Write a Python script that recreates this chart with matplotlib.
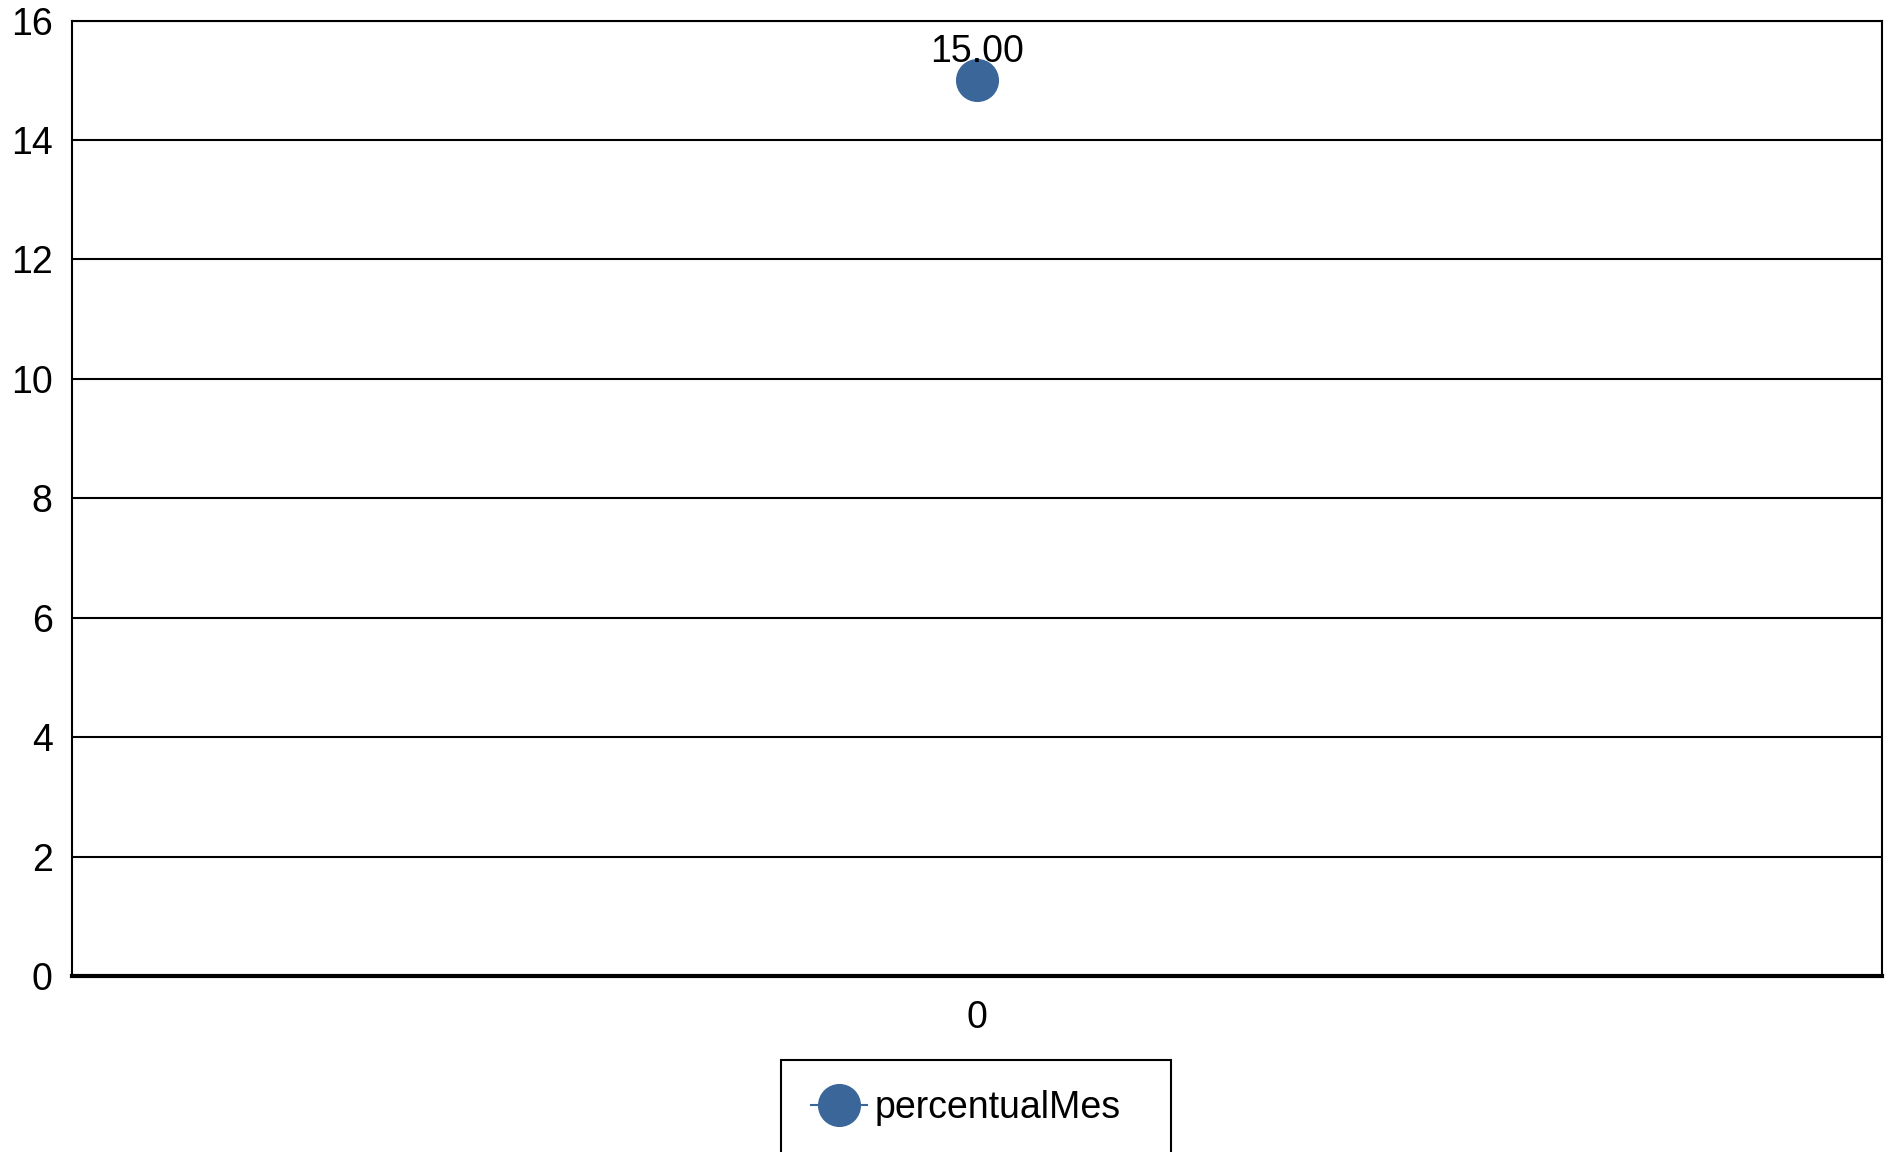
import matplotlib.pyplot as plt
import numpy as np

categories = ["0"]
percentual_mes = [15.00]
y_ticks = [0, 2, 4, 6, 8, 10, 12, 14, 16]

blue = "#3A6699"

plt.rcParams['font.family'] = ['Liberation Sans', 'DejaVu Sans']

fig = plt.figure(figsize=(18.89, 11.52), dpi=100)
ax = fig.add_axes([0.0381, 0.1528, 0.9582, 0.8294])

x = np.arange(len(categories))
ax.plot(x, percentual_mes, color=blue, lw=1.5, marker='o', markersize=30,
        markerfacecolor=blue, markeredgecolor=blue, label="percentualMes", zorder=3)
for xi, v in zip(x, percentual_mes):
    ax.annotate(f"{v:.2f}", (xi, v), xytext=(0, 13), textcoords='offset points',
                ha='center', va='baseline', fontsize=27, zorder=4)

ax.set_xlim(-0.5, len(categories) - 0.5)
ax.set_ylim(0, 16)
ax.set_yticks(y_ticks)
ax.set_xticks(x)
ax.set_xticklabels(categories)
ax.tick_params(axis='both', length=0, labelsize=27)
ax.tick_params(axis='y', pad=14)
ax.tick_params(axis='x', pad=17)
ax.yaxis.grid(True, color='black', lw=1.5)
ax.set_axisbelow(True)
for s in ['top', 'right', 'left']:
    ax.spines[s].set_linewidth(1.5)
ax.spines['bottom'].set_linewidth(3)

# legend box sits low, partly cut off by the figure edge
top = 1 - 1060 / 1152
leg = fig.legend(loc='upper left', bbox_to_anchor=(781 / 1889, top - 0.2, 390 / 1889, 0.2),
                 mode='expand', fontsize=27, frameon=True, fancybox=False,
                 edgecolor='black', framealpha=1, borderpad=0.8, borderaxespad=0,
                 handlelength=1.5, handletextpad=0.2)
leg.get_frame().set_linewidth(1.5)

fig.savefig("out.png", dpi=100)
